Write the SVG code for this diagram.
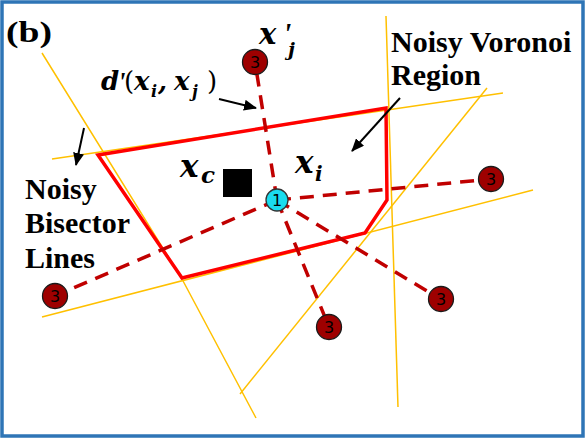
<svg xmlns="http://www.w3.org/2000/svg" width="586" height="442" viewBox="0 0 586 442">
<defs>
<style>
.bis{stroke:#FFC000;stroke-width:1.5;fill:none}
.reg{stroke:#FF0000;stroke-width:3.5;fill:none;stroke-linejoin:miter}
.dash{stroke:#C00000;stroke-width:3.5;stroke-dasharray:14 9;fill:none}
.arr{stroke:#000;stroke-width:2;fill:none;marker-end:url(#ah)}
.n3{fill:#9E0000;stroke:#1a1a1a;stroke-width:1.3}
.n1{fill:#1ADCEE;stroke:#333;stroke-width:1.3}
.nt{font-family:"DejaVu Sans",sans-serif;font-size:16px;fill:#000;text-anchor:middle}
.lbl{font-family:"Liberation Serif","Times New Roman",serif;font-weight:bold;font-size:30px;fill:#000}
.m{font-family:"DejaVu Serif",serif;font-weight:bold;font-style:italic;fill:#000}
.pr{font-family:"Liberation Serif",serif;font-weight:bold;font-style:italic;fill:#000}
</style>
<marker id="ah" markerUnits="userSpaceOnUse" markerWidth="13" markerHeight="11" refX="12" refY="5.5" orient="auto">
<path d="M0,0 L13,5.5 L0,11 z" fill="#000"/>
</marker>
</defs>
<rect x="0" y="0" width="586" height="442" fill="#fff"/>
<rect x="2" y="2" width="581" height="434" fill="none" stroke="#2E75B6" stroke-width="3.5"/>

<g id="bisectors">
<polyline class="bis" points="42,53 182,279 256,418"/>
<line class="bis" x1="52" y1="159" x2="503" y2="93"/>
<line class="bis" x1="386" y1="16" x2="398" y2="407"/>
<line class="bis" x1="487" y1="88" x2="240" y2="394"/>
<line class="bis" x1="42" y1="317" x2="533" y2="190"/>
</g>

<g id="region">
<polygon class="reg" points="98,155 386,108 387,200 365,233 182,278"/>
</g>

<g id="connectors">
<line class="dash" x1="277" y1="200" x2="255" y2="62"/>
<line class="dash" x1="277" y1="200" x2="491" y2="179"/>
<line class="dash" x1="277" y1="200" x2="440" y2="299"/>
<line class="dash" x1="277" y1="200" x2="329" y2="327"/>
<line class="dash" x1="277" y1="200" x2="55" y2="296"/>
<line class="arr" x1="219" y1="99" x2="256" y2="108"/>
<line class="arr" x1="400" y1="98" x2="352" y2="151"/>
<line class="arr" x1="84" y1="128" x2="76" y2="165"/>
</g>

<g id="centroid"><rect x="223" y="169" width="29" height="28" fill="#000"/></g>

<g id="node-i"><circle class="n1" cx="277" cy="200" r="11"/><text class="nt" x="277" y="206" font-size="17">1</text></g>
<g id="node-top"><circle class="n3" cx="255" cy="62" r="12.5"/><text class="nt" x="255" y="68">3</text></g>
<g id="node-right"><circle class="n3" cx="491" cy="179" r="12.5"/><text class="nt" x="491" y="185">3</text></g>
<g id="node-lowright"><circle class="n3" cx="441" cy="299" r="12.5"/><text class="nt" x="441" y="305">3</text></g>
<g id="node-bottom"><circle class="n3" cx="329" cy="327" r="12.5"/><text class="nt" x="329" y="333">3</text></g>
<g id="node-left"><circle class="n3" cx="55" cy="296" r="12.5"/><text class="nt" x="55" y="302">3</text></g>

<g id="labels">
<text class="lbl" x="6" y="42" font-size="40" textLength="46" lengthAdjust="spacingAndGlyphs">(b)</text>
<text class="lbl" x="391" y="52">Noisy Voronoi</text>
<text class="lbl" x="391" y="85">Region</text>
<text class="lbl" x="25" y="199">Noisy</text>
<text class="lbl" x="25" y="233">Bisector</text>
<text class="lbl" x="25" y="268">Lines</text>

<text class="m" font-size="29"><tspan x="259" y="44">x</tspan><tspan class="pr" x="283" y="43" font-size="30">'</tspan><tspan x="288" y="56" font-size="19">j</tspan></text>

<text class="m" font-size="26"><tspan x="101" y="90">d</tspan><tspan class="pr" x="118" y="91" font-size="27">'</tspan><tspan x="124" y="90" font-style="normal" font-weight="normal">(</tspan><tspan x="134" y="90">x</tspan><tspan x="151" y="97" font-size="16">i</tspan><tspan x="158" y="90">,</tspan><tspan x="174" y="90">x</tspan><tspan x="192" y="97" font-size="16">j</tspan><tspan x="207" y="90" font-style="normal" font-weight="normal">)</tspan></text>

<text class="m" font-size="31"><tspan x="180" y="177">x</tspan><tspan x="201" y="183" font-size="23">c</tspan></text>
<text class="m" font-size="31"><tspan x="295" y="173">x</tspan><tspan x="315" y="181" font-size="20">i</tspan></text>
</g>
</svg>
